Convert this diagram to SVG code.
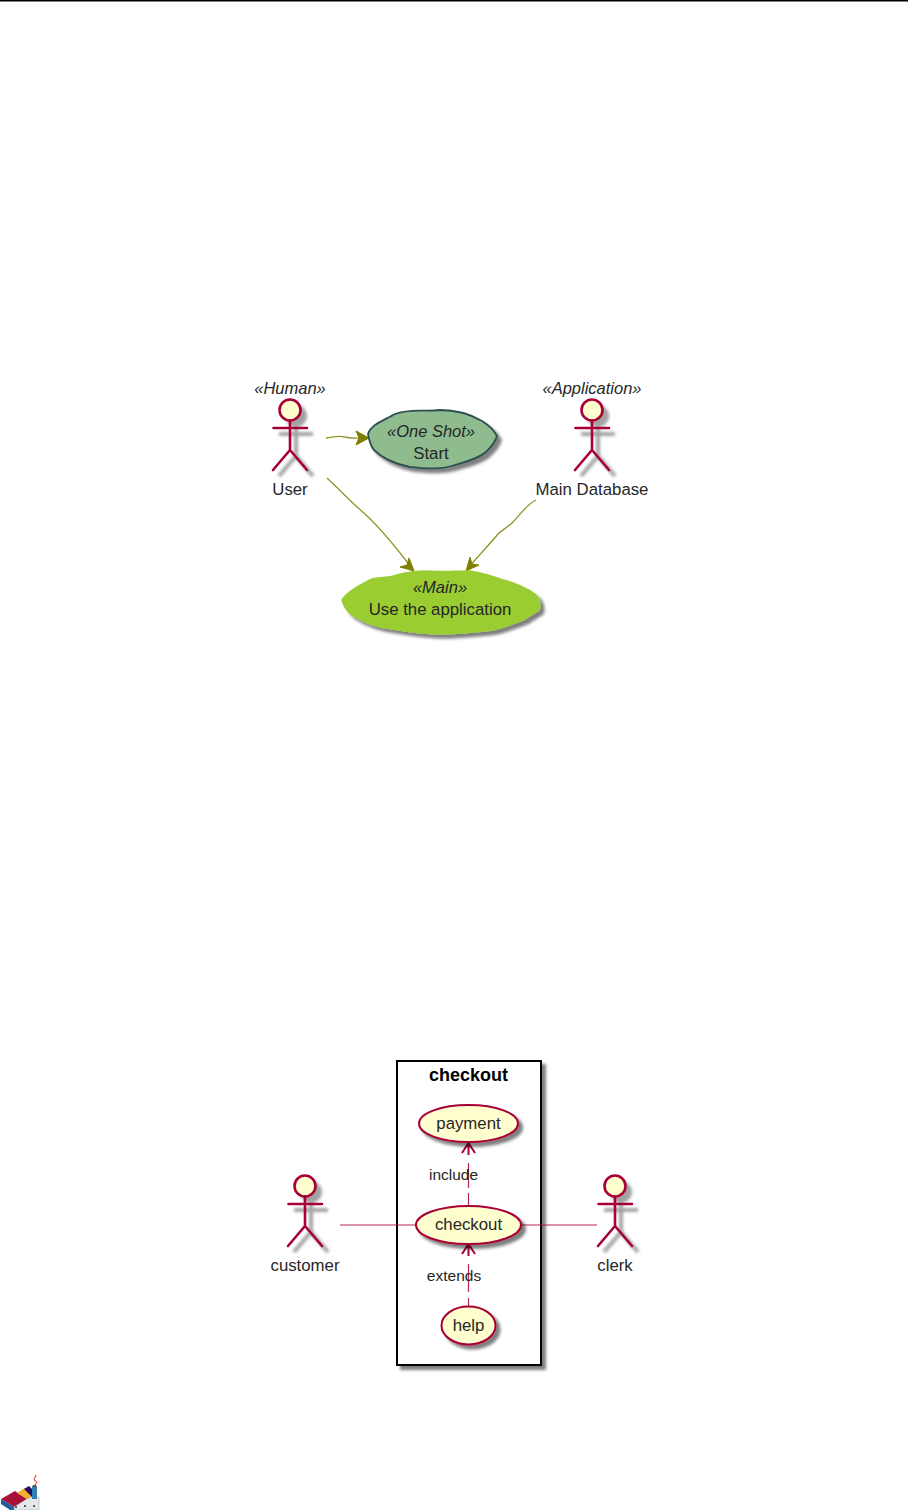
<svg xmlns="http://www.w3.org/2000/svg" width="908" height="1510" viewBox="0 0 908 1510">
<style>
text{font-family:"Liberation Sans",Arial,sans-serif;font-size:16.8px;fill:#262626;text-anchor:middle}
.st{font-style:italic;font-size:16.500px}
.actor{fill:none;stroke:#A80036;stroke-width:2.6;stroke-linecap:round}
.head{fill:#FEFECE;stroke:#A80036;stroke-width:2.6}
.uc{fill:#FEFECE;stroke:#A80036;stroke-width:2}
.olive{fill:none;stroke:#808000;stroke-width:1.3;opacity:.85}
.red{fill:none;stroke:#A80036;stroke-width:1.2;opacity:.85}
.sm{font-size:15.500px}
.ah{fill:none;stroke:#A80036;stroke-width:2}
</style>
<defs>
<filter id="sh" x="-30%" y="-30%" width="170%" height="170%"><feDropShadow dx="4" dy="4" stdDeviation="1.800" flood-color="#000" flood-opacity="0.5"/></filter>
<filter id="shA" x="-60%" y="-30%" width="220%" height="170%"><feGaussianBlur stdDeviation="1.800"/></filter>
<g id="stick">
<g transform="translate(6 6)" filter="url(#shA)" opacity="0.36">
<circle cx="0" cy="0" r="11" fill="#000"/>
<path fill="none" stroke="#000" stroke-width="4" d="M0 10V40M-17 18H17M0 40L-17 60M0 40L17 60"/>
</g>
<circle class="head" cx="0" cy="0" r="10.500"/>
<path class="actor" d="M0 10.500V40M-16.500 18H17M0 40L-17 60M0 40L17 60"/>
</g>
</defs>
<rect width="908" height="1510" fill="#fff"/>
<rect x="0" y="0" width="908" height="1.500" fill="#000"/>

<g id="package-checkout">
<rect x="397" y="1061" width="144" height="304" fill="#fff" stroke="#000" stroke-width="2" filter="url(#sh)"/>
<text x="468.500" y="1081" style="font-weight:bold;font-size:18px;fill:#000">checkout</text>
</g>

<g id="connectors">
<path class="olive" d="M326 438C334 437 338 435 345 437C353 439 358 438 366 438"/>
<path d="M369 438L356 431L359 438L356 445Z" fill="#808000" stroke="#808000"/>
<path class="olive" d="M327 478C340 490 352 503 365 514C378 526 395 546 411 567"/>
<path d="M414 571L409 558L407 565L400 567Z" fill="#808000" stroke="#808000"/>
<path class="olive" d="M536 500C526 505 520 515 513 522C507 528 503 529 498 534C490 544 478 556 470 566"/>
<path d="M466 571L479 565L472 564L470 557Z" fill="#808000" stroke="#808000"/>
<path class="red" d="M340 1225H415M521 1225H597"/>
<path class="red" d="M468.500 1205V1193M468.500 1188V1163"/>
<path class="red" d="M468.500 1306V1298M468.500 1292V1264"/>
<path class="ah" d="M462 1153L468.500 1143L475 1153M468.500 1143V1155M462 1254L468.500 1244L475 1254M468.500 1244V1256"/>
</g>

<g id="actor-user">
<use href="#stick" x="290" y="410"/>
<text class="st" x="290" y="394">«Human»</text>
<text x="290" y="495">User</text>
</g>
<g id="actor-main-database">
<use href="#stick" x="592" y="410"/>
<text class="st" x="592" y="394">«Application»</text>
<text x="592" y="495">Main Database</text>
</g>
<g id="usecase-start">
<path filter="url(#sh)" fill="#8FBC8F" stroke="#2F4F4F" stroke-width="1.800" d="M368 434C371 424 385 420 395 414C410 408 425 412 440 410C455 410 470 414 482 421C490 426 494 430 497 436C495 443 491 447 486 452C478 459 465 462 452 466C438 470 425 468 410 467C395 464 382 458 374 450C370 445 369 440 368 434Z"/>
<text class="st" x="431" y="437">«One Shot»</text>
<text x="431" y="459">Start</text>
</g>
<g id="usecase-main">
<path filter="url(#sh)" fill="#9ACD32" stroke="#9ACD32" stroke-width="1.500" d="M342 600C347 592 358 586 372 579C380 577 390 578 397 575C407 572 418 571 428 571C440 572 455 571 470 571C482 573 492 576 503 580C515 583 528 589 536 595C539 599 541 604 539 610C535 613 530 615 525 619C515 623 505 627 492 630C478 632 462 633 445 634C428 634 410 632 393 629C378 627 363 622 352 615C347 611 344 607 342 600Z"/>
<text class="st" x="440" y="593">«Main»</text>
<text x="440" y="615">Use the application</text>
</g>

<g id="actor-customer">
<use href="#stick" x="305" y="1186"/>
<text x="305" y="1271">customer</text>
</g>
<g id="actor-clerk">
<use href="#stick" x="615" y="1186"/>
<text x="615" y="1271">clerk</text>
</g>
<g id="usecase-payment">
<ellipse class="uc" cx="468.500" cy="1123.500" rx="49.500" ry="18.500" filter="url(#sh)"/>
<text x="468.500" y="1129">payment</text>
</g>
<g id="usecase-checkout">
<ellipse class="uc" cx="468.500" cy="1225" rx="52.500" ry="19" filter="url(#sh)"/>
<text x="468.500" y="1230">checkout</text>
</g>
<g id="usecase-help">
<ellipse class="uc" cx="468.500" cy="1325.500" rx="27" ry="19" filter="url(#sh)"/>
<text x="468.500" y="1331">help</text>
</g>
<g id="labels">
<text class="sm" x="453.500" y="1180">include</text>
<text class="sm" x="454" y="1281">extends</text>
</g>

<g id="logo">
<path d="M1 1499L15 1491L27 1499L14 1507Z" fill="#A8123A"/>
<path d="M17 1493L25 1488L34 1496L27 1499Z" fill="#F0B030"/>
<path d="M24 1489L29 1486L37 1494L32 1497Z" fill="#1F0F5F"/>
<path d="M1 1499L14 1507V1510H10L1 1504Z" fill="#1E5F9A"/>
<path d="M14 1507L27 1499L32 1497H39V1510H14Z" fill="#E4E8EA" stroke="#8aa" stroke-width="0.500"/>
<rect x="32" y="1487" width="5" height="12" fill="#2F7FB5"/>
<path d="M32 1487H37L36 1485H33Z" fill="#555"/>
<path d="M36 1475L34 1480L37 1482L35 1485" fill="none" stroke="#D33" stroke-width="1"/>
<circle cx="16" cy="1507" r="1" fill="#333"/><circle cx="25" cy="1506" r="1" fill="#333"/><circle cx="34" cy="1506" r="1" fill="#333"/>
</g>
</svg>
